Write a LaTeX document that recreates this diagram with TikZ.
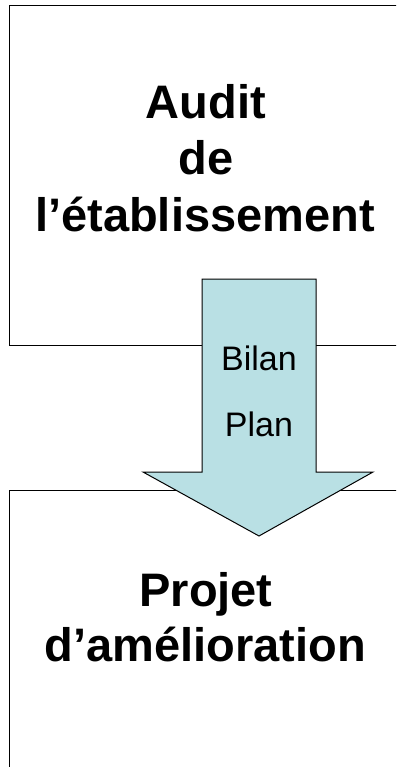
\documentclass[tikz,border=0pt]{standalone}
\usepackage{fontspec}
\setmainfont{Liberation Sans}
\definecolor{arrowfill}{RGB}{185,224,228}
\begin{document}
\begin{tikzpicture}[x=1pt,y=-1pt,
  boxline/.style={draw=black,line width=1pt},
  title/.style={anchor=base,inner sep=0pt,font=\fontsize{47}{56}\selectfont\bfseries},
  label/.style={anchor=base,inner sep=0pt,font=\fontsize{34}{40}\selectfont}]
\useasboundingbox (0,0) rectangle (396,767);
\clip (0,0) rectangle (396,767);
% top box
\draw[boxline] (420,6) -- (9,6) -- (9,345) -- (420,345);
% bottom box
\draw[boxline] (420,490) -- (9,490) -- (9,790);
% big arrow
\draw[boxline,fill=arrowfill] (202,279) -- (316,279) -- (316,472) -- (373,472)
  -- (259,536) -- (143,472) -- (202,472) -- cycle;
% texts
\node[title] (t1) at (206,119) {Audit};
\node[title] (t2) at (206,175) {de};
\node[title] (t3) at (205,231) {l’établissement};
\node[title] (b1) at (206,606) {Projet};
\node[title] (b2) at (205.5,661) {d’amélioration};
\node[label] (l1) at (259,370) {Bilan};
\node[label] (l2) at (259,436) {Plan};
\end{tikzpicture}
\end{document}
